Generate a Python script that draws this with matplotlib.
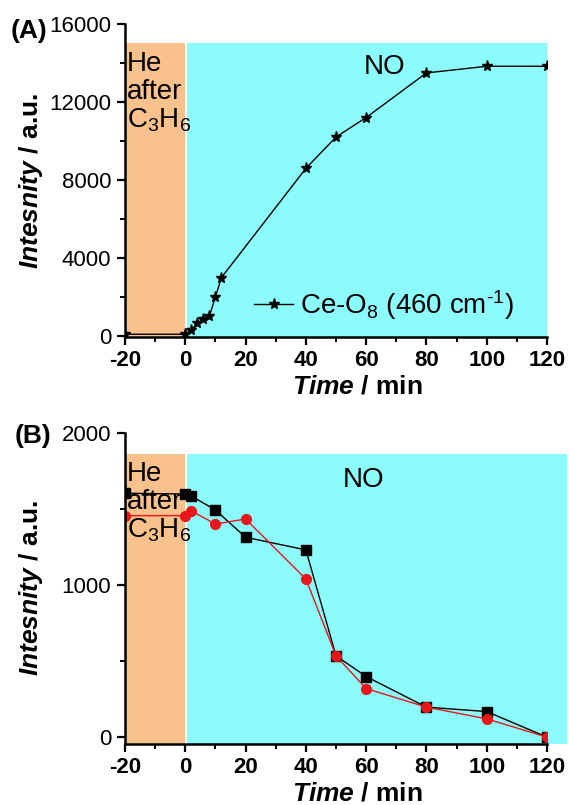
import matplotlib.pyplot as plt
from matplotlib.patches import Rectangle

plt.rcParams['font.family'] = ['Liberation Sans', 'DejaVu Sans']
plt.rcParams['axes.unicode_minus'] = False
plt.rcParams['mathtext.fontset'] = 'custom'
plt.rcParams['mathtext.rm'] = 'Liberation Sans'
plt.rcParams['mathtext.it'] = 'Liberation Sans:italic'
plt.rcParams['mathtext.bf'] = 'Liberation Sans:bold'
plt.rcParams['mathtext.bfit'] = 'Liberation Sans:italic:bold'

# panel A: Ce-O8 band intensity
time_a = [-20, 0, 2, 4, 6, 8, 10, 12, 40, 50, 60, 80, 100, 120]
ceo8 = [80, 80, 290, 670, 840, 1010, 2000, 2990, 8590, 10200, 11200, 13490, 13830, 13830]

# panel B: two series
time_b = [-20, 0, 2, 10, 20, 40, 50, 60, 80, 100, 120]
black_b = [1602, 1597, 1584, 1492, 1313, 1230, 534, 398, 197, 168, 0]
red_b = [1455, 1455, 1486, 1400, 1433, 1039, 534, 319, 197, 120, 0]

orange = '#F9C28D'
cyan = '#8CFBFB'

fig = plt.figure(figsize=(5.69, 8.05), dpi=100)
axA = fig.add_axes([0.2197, 0.5814, 0.7417, 0.3888])
axB = fig.add_axes([0.2197, 0.0758, 0.7417, 0.3867])


def style(ax, ylim, ymajor, yminor):
    ax.set_xlim(-20, 120)
    ax.set_ylim(*ylim)
    for s in ['top', 'right']:
        ax.spines[s].set_visible(False)
    for s in ['left', 'bottom']:
        ax.spines[s].set_linewidth(1.8)
        ax.spines[s].set_zorder(5)
    ax.set_xticks(range(-20, 121, 20))
    ax.set_xticks(range(-10, 121, 20), minor=True)
    ax.set_yticks(ymajor)
    ax.set_yticks(yminor, minor=True)
    ax.tick_params(which='major', length=6, width=1.6, labelsize=16)
    ax.tick_params(axis='y', pad=4)
    ax.tick_params(which='minor', length=3.5, width=1.4)
    for lab in ax.get_xticklabels():
        lab.set_fontweight('bold')
    ax.set_xlabel(r'$\mathbfit{Time}$ / min', fontsize=19, fontweight='bold')
    ax.xaxis.set_label_coords(0.55, -0.12)
    ax.set_ylabel(r'$\mathbfit{Intesnity}$ / a.u.', fontsize=19, fontweight='bold')
    ax.yaxis.set_label_coords(-0.19, 0.5)


def regions(ax, ybot, ytop, xend):
    ax.add_patch(Rectangle((-20, ybot), 20, ytop - ybot, facecolor=orange,
                           edgecolor='none', zorder=0))
    ax.add_patch(Rectangle((0.4, ybot), xend - 0.4, ytop - ybot, facecolor=cyan,
                           edgecolor='none', zorder=0, clip_on=False))
    ax.text(-19.3, ytop * 0.975, 'He\nafter\nC$_3$H$_6$', fontsize=20, va='top',
            ha='left', linespacing=1.1, zorder=3)


# (A)
style(axA, (-60, 16000), range(0, 16001, 4000), range(2000, 16000, 4000))
regions(axA, -60, 15000, 120)
axA.plot(time_a, ceo8, color='black', lw=1, marker='*', ms=8,
         label=r'Ce-O$_8$ (460 cm$^{\text{-1}}$)', zorder=4)
axA.text(66, 13800, 'NO', fontsize=20, ha='center', va='center')
axA.legend(loc='center left', bbox_to_anchor=(0.306, 0.102), frameon=False,
           fontsize=20, handlelength=1.4, handletextpad=0.25, borderpad=0,
           borderaxespad=0)
fig.text(0.018, 0.961, '(A)', fontsize=19, fontweight='bold', va='center')

# (B)
style(axB, (-45, 2000), range(0, 2001, 1000), range(500, 2000, 1000))
regions(axB, -45, 1862, 126.5)
axB.plot(time_b, black_b, color='black', lw=1, marker='s', ms=6.5, zorder=4)
axB.plot(time_b, red_b, color='#E8151B', lw=1, marker='o', ms=7, zorder=4)
axB.text(59, 1690, 'NO', fontsize=20, ha='center', va='center')
fig.text(0.025, 0.458, '(B)', fontsize=19, fontweight='bold', va='center')

fig.savefig('out.png', dpi=100)
